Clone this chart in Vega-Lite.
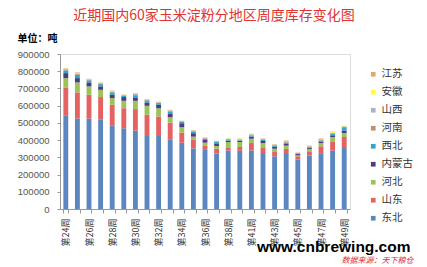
{
  "$schema": "https://vega.github.io/schema/vega-lite/v6.json",
  "width": 290,
  "height": 155,
  "autosize": {"type": "none"},
  "padding": {"left": 60, "top": 54, "right": 77, "bottom": 58},
  "background": "white",
  "title": {
    "text": "近期国内60家玉米淀粉分地区周度库存变化图",
    "font": "Noto Sans CJK SC",
    "fontSize": 14,
    "fontWeight": "normal",
    "color": "#E2332F",
    "anchor": "middle",
    "frame": "group",
    "dx": 9,
    "offset": 10
  },
  "data": {
    "values": [
      {"w": "第24周", "东北": 541000, "山东": 165000, "河北": 54000, "内蒙古": 29000, "西北": 16000, "河南": 5000, "山西": 3000, "安徽": 2000, "江苏": 3000},
      {"w": "第25周", "东北": 525000, "山东": 152000, "河北": 58000, "内蒙古": 25000, "西北": 20000, "河南": 5000, "山西": 3000, "安徽": 2000, "江苏": 3000},
      {"w": "第26周", "东北": 525000, "山东": 138000, "河北": 49000, "内蒙古": 23000, "西北": 12000, "河南": 4000, "山西": 2000, "安徽": 1000, "江苏": 2000},
      {"w": "第27周", "东北": 518000, "山东": 132000, "河北": 42000, "内蒙古": 20000, "西北": 13000, "河南": 4000, "山西": 3000, "安徽": 1000, "江苏": 2000},
      {"w": "第28周", "东北": 483000, "山东": 122000, "河北": 39000, "内蒙古": 19000, "西北": 14000, "河南": 4000, "山西": 3000, "安徽": 1000, "江苏": 2000},
      {"w": "第29周", "东北": 469000, "山东": 116000, "河北": 43000, "内蒙古": 22000, "西北": 7000, "河南": 3000, "山西": 2000, "安徽": 1000, "江苏": 2000},
      {"w": "第30周", "东北": 455000, "山东": 125000, "河北": 48000, "内蒙古": 20000, "西北": 13000, "河南": 5000, "山西": 3000, "安徽": 1000, "江苏": 3000},
      {"w": "第31周", "东北": 424000, "山东": 123000, "河北": 52000, "内蒙古": 19000, "西北": 12000, "河南": 4000, "山西": 2000, "安徽": 1000, "江苏": 2000},
      {"w": "第32周", "东北": 424000, "山东": 113000, "河北": 48000, "内蒙古": 20000, "西北": 10000, "河南": 3000, "山西": 2000, "安徽": 1000, "江苏": 2000},
      {"w": "第33周", "东北": 405000, "山东": 97000, "河北": 31000, "内蒙古": 19000, "西北": 14000, "河南": 4000, "山西": 3000, "安徽": 1000, "江苏": 2000},
      {"w": "第34周", "东北": 385000, "山东": 59000, "河北": 31000, "内蒙古": 23000, "西北": 8000, "河南": 3000, "山西": 2000, "安徽": 1000, "江苏": 1000},
      {"w": "第35周", "东北": 352000, "山东": 49000, "河北": 19000, "内蒙古": 20000, "西北": 10000, "河南": 4000, "山西": 2000, "安徽": 1000, "江苏": 2000},
      {"w": "第36周", "东北": 343000, "山东": 23000, "河北": 19000, "内蒙古": 16000, "西北": 6000, "河南": 4000, "山西": 2000, "安徽": 1000, "江苏": 2000},
      {"w": "第37周", "东北": 323000, "山东": 27000, "河北": 16000, "内蒙古": 15000, "西北": 8000, "河南": 3000, "山西": 2000, "安徽": 500, "江苏": 1500},
      {"w": "第38周", "东北": 340000, "山东": 18000, "河北": 31000, "内蒙古": 8000, "西北": 5000, "河南": 4000, "山西": 2000, "安徽": 1000, "江苏": 1000},
      {"w": "第39周", "东北": 338000, "山东": 22000, "河北": 29000, "内蒙古": 6000, "西北": 4000, "河南": 4000, "山西": 3000, "安徽": 1000, "江苏": 2000},
      {"w": "第41周", "东北": 340000, "山东": 43000, "河北": 25000, "内蒙古": 12000, "西北": 6000, "河南": 5000, "山西": 3000, "安徽": 1000, "江苏": 2000},
      {"w": "第42周", "东北": 325000, "山东": 33000, "河北": 25000, "内蒙古": 12000, "西北": 6000, "河南": 4000, "山西": 2000, "安徽": 1000, "江苏": 2000},
      {"w": "第43周", "东北": 306000, "山东": 29000, "河北": 15000, "内蒙古": 12000, "西北": 6000, "河南": 4000, "山西": 2000, "安徽": 1000, "江苏": 2000},
      {"w": "第44周", "东北": 325000, "山东": 24000, "河北": 19000, "内蒙古": 10000, "西北": 8000, "河南": 5000, "山西": 3000, "安徽": 1000, "江苏": 3000},
      {"w": "第45周", "东北": 287000, "山东": 19000, "河北": 5000, "内蒙古": 8000, "西北": 3000, "河南": 4000, "山西": 1000, "安徽": 1000, "江苏": 1000},
      {"w": "第46周", "东北": 310000, "山东": 21000, "河北": 18000, "内蒙古": 6000, "西北": 4000, "河南": 4000, "山西": 2000, "安徽": 1000, "江苏": 2000},
      {"w": "第47周", "东北": 320000, "山东": 44000, "河北": 19000, "内蒙古": 9000, "西北": 6000, "河南": 5000, "山西": 3000, "安徽": 1000, "江苏": 3000},
      {"w": "第48周", "东北": 339000, "山东": 54000, "河北": 25000, "内蒙古": 10000, "西北": 7000, "河南": 5000, "山西": 3000, "安徽": 5000, "江苏": 2000},
      {"w": "第49周", "东北": 354000, "山东": 64000, "河北": 23000, "内蒙古": 15000, "西北": 14000, "河南": 6000, "山西": 3000, "安徽": 2000, "江苏": 2000}
    ]
  },
  "transform": [
    {"fold": ["东北", "山东", "河北", "内蒙古", "西北", "河南", "山西", "安徽", "江苏"], "as": ["region", "value"]}
  ],
  "layer": [
    {
      "mark": {"type": "bar"},
      "encoding": {
        "x": {
          "field": "w",
          "type": "nominal",
          "sort": null,
          "scale": {"paddingInner": 0.58, "paddingOuter": 0.29},
          "axis": {
            "title": "www.cnbrewing.com",
            "titleFont": "Liberation Sans",
            "titleFontSize": 15.5,
            "titleFontWeight": "bold",
            "titleColor": "#000000",
            "titleAlign": "right",
            "titleAnchor": null,
            "titleX": 350,
            "titleY": 42,
            "titleBaseline": "alphabetic",
            "labelAngle": 270,
            "labelFont": "Noto Sans CJK SC",
            "labelFontSize": 9,
            "labelColor": "#333333",
            "labelOverlap": false,
            "labelPadding": 5,
            "labelExpr": "indexof(['第24周','第26周','第28周','第30周','第32周','第34周','第36周','第38周','第41周','第43周','第45周','第47周','第49周'], datum.value) >= 0 ? datum.value : ''",
            "tickBand": "extent",
            "tickSize": 4,
            "tickColor": "#999999",
            "domainColor": "#999999"
          }
        },
        "y": {
          "field": "value",
          "type": "quantitative",
          "stack": "zero",
          "scale": {"domain": [0, 900000], "nice": false},
          "axis": {
            "title": "单位：吨",
            "titleAngle": 0,
            "titleAlign": "left",
            "titleBaseline": "middle",
            "titleX": -43,
            "titleY": -16,
            "titleFont": "Noto Sans CJK SC",
            "titleFontSize": 10,
            "titleFontWeight": "bold",
            "titleColor": "#000000",
            "values": [0, 100000, 200000, 300000, 400000, 500000, 600000, 700000, 800000, 900000],
            "format": "d",
            "labelFont": "Liberation Sans",
            "labelFontSize": 9.5,
            "labelColor": "#555555",
            "labelPadding": 8,
            "tickSize": 3,
            "tickColor": "#999999",
            "domainColor": "#999999",
            "grid": false
          }
        },
        "color": {
          "field": "region",
          "type": "nominal",
          "sort": ["江苏", "安徽", "山西", "河南", "西北", "内蒙古", "河北", "山东", "东北"],
          "scale": {
            "domain": ["江苏", "安徽", "山西", "河南", "西北", "内蒙古", "河北", "山东", "东北"],
            "range": ["#E3A66E", "#FFFF33", "#A9B4CB", "#C0926A", "#2FA6C8", "#4E3B88", "#9BC35A", "#E46262", "#5B86C0"]
          },
          "legend": {
            "orient": "none",
            "legendX": 308,
            "legendY": 15,
            "title": null,
            "padding": 0,
            "symbolType": "square",
            "symbolSize": 22,
            "symbolStrokeWidth": 0,
            "labelFont": "Noto Sans CJK SC",
            "labelFontSize": 10.5,
            "labelColor": "#333333",
            "labelOffset": 3,
            "rowPadding": 7
          }
        },
        "order": {"field": "w", "type": "nominal"}
      }
    },
    {
      "mark": {"type": "rule", "opacity": 0},
      "encoding": {
        "x": {
          "field": "w",
          "type": "nominal",
          "sort": null,
          "axis": {
            "orient": "top",
            "labels": false,
            "ticks": false,
            "domain": false,
            "title": "数据来源：天下粮仓",
            "titleFont": "Noto Sans CJK SC",
            "titleFontSize": 8,
            "titleFontStyle": "italic",
            "titleFontWeight": "normal",
            "titleColor": "#E03030",
            "titleAlign": "right",
            "titleAnchor": null,
            "titleX": 353,
            "titleY": 208,
            "titleBaseline": "alphabetic"
          }
        }
      }
    }
  ],
  "resolve": {"axis": {"x": "independent"}}
}
